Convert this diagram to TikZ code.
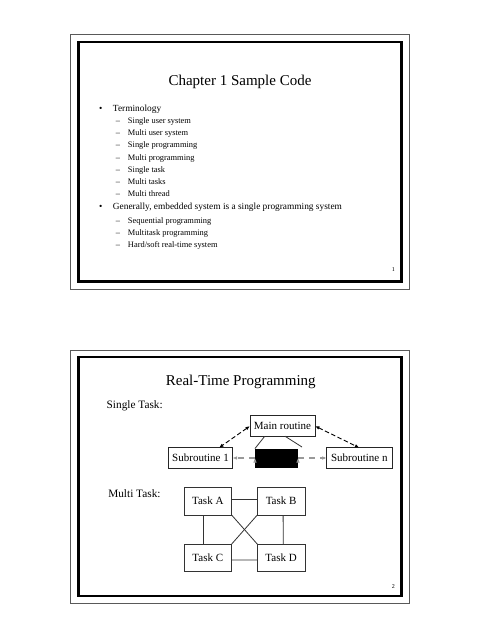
\documentclass[tikz,border=0pt]{standalone}
\usepackage{fontspec}
\setmainfont{Liberation Serif}
\usetikzlibrary{positioning}
\usetikzlibrary{calc}
\usetikzlibrary{arrows.meta}
\tikzset{
	every node/.style={inner sep=0pt,outer sep=0pt},
	slidetitle/.style={font=\fontsize{15}{18}\selectfont, anchor=base},
	itemtext/.style={font=\fontsize{9.35}{11}\selectfont, anchor=base west},
	subtext/.style={font=\fontsize{8.4}{10}\selectfont, anchor=base west},
	tasklabel/.style={font=\fontsize{11.3}{13}\selectfont, anchor=base west},
	pagenum/.style={font=\fontsize{6}{7}\selectfont},
	box/.style={draw=black!85, line width=0.8pt, font=\fontsize{11}{13}\selectfont, minimum height=20.5pt},
	taskbox/.style={draw=black!80, line width=0.8pt, font=\fontsize{11}{13}\selectfont, minimum width=47.7pt, minimum height=27.7pt},
	hiddenbox/.style={fill=black, minimum width=43pt, minimum height=19pt},
	calls/.style={{Latex[length=4.5pt,width=3.5pt]}-{Latex[length=4.5pt,width=3.5pt]}, dash pattern=on 4.5pt off 2.5pt, line width=0.9pt},
	returns/.style={-{Latex[length=4.5pt,width=3.5pt]}, draw=black!40, dash pattern=on 6pt off 5pt, line width=1.1pt},
	link/.style={draw=black!80, line width=0.8pt},
	outerframe/.style={draw=black!65, line width=0.8pt},
	innerframe/.style={draw=black, line width=2.4pt}
}
\newcommand\bulletmark{\makebox[13.9pt][l]{•}}
\newcommand\dashmark{\makebox[12.1pt][l]{–}}

\begin{document}
\begin{tikzpicture}[x=1pt,y=-1pt]
	\useasboundingbox[fill=white] (0,0) rectangle (480,640);
	
	% Slide 1
	\draw[outerframe] (70,34) rectangle (409,289);
	\draw[innerframe] (78.5,42) rectangle (401.5,281.5);
	\node (title1) [slidetitle] at (240,85) {Chapter 1 Sample Code};
	
	\node (term) [itemtext] at (99.1,111.5) {\bulletmark Terminology};
	\node (s1) [subtext] at (115.9,123.5) {\dashmark Single user system};
	\node (s2) [subtext] at (115.9,135.6) {\dashmark Multi user system};
	\node (s3) [subtext] at (115.9,147.8) {\dashmark Single programming};
	\node (s4) [subtext] at (115.9,160) {\dashmark Multi programming};
	\node (s5) [subtext] at (115.9,172.1) {\dashmark Single task};
	\node (s6) [subtext] at (115.9,184.2) {\dashmark Multi tasks};
	\node (s7) [subtext] at (115.9,196.3) {\dashmark Multi thread};
	\node (gen) [itemtext] at (99.1,209.8) {\bulletmark Generally, embedded system is a single programming system};
	\node (g1) [subtext] at (115.9,223.5) {\dashmark Sequential programming};
	\node (g2) [subtext] at (115.9,235.6) {\dashmark Multitask programming};
	\node (g3) [subtext] at (115.9,247.7) {\dashmark Hard/soft real-time system};
	
	\node (page1) [pagenum] at (393.3,269.3) {1};
	
	% Slide 2
	\draw[outerframe] (70,350) rectangle (409,603);
	\draw[innerframe] (78.5,357) rectangle (401.5,596);
	\node (title2) [slidetitle] at (240.8,385) {Real-Time Programming};
	
	\node (single) [tasklabel] at (106.7,408) {Single Task:};
	\node (multi) [tasklabel] at (108.3,497.5) {Multi Task:};
	
	% single task
	\node (main) [box, minimum width=65pt] at (282.5,426) {Main routine};
	\node (black) [hiddenbox] at (276.5,458) {};
	\node (sub1) [box, minimum width=64pt, left = 22.5pt of black] {Subroutine 1};
	\node (subn) [box, minimum width=65.3pt, right = 28.7pt of black] {Subroutine n};
	\coordinate (hidden) at (302,447);
	
	\path[calls] (main.west) edge (sub1.29);
	\path[calls] (main.east) edge (subn.north);
	\draw[link] (main.210) -- (black.north west);
	\draw[link] (main.284) -- (hidden);
	\path[returns] (black.west) edge (sub1.east);
	\path[returns] (black.east) edge (subn.west);
	
	% multi task
	\node (taska) [taskbox] at (207.8,501.2) {Task A};
	\node (taskb) [taskbox, right = 25.6pt of taska] {Task B};
	\node (taskc) [taskbox, below = 29pt of taska] {Task C};
	\node (taskd) [taskbox, right = 25.6pt of taskc] {Task D};
	
	\draw[link] (taska.east) ++(0,-2) -- (taskb.west |- 0,499.2);
	\draw[link] (taskc.east) ++(0,2) -- (taskd.west |- 0,560);
	\draw[link] (taska.south) ++(-4.5,0) -- (taskc.north -| 203.3,0);
	\draw[link] (taskb.south) ++(2,0) -- (taskd.north -| 283.3,0);
	\draw[link] (taska.south east) -- (taskd.north west);
	\draw[link] (taskb.south west) -- (taskc.north east);
	
	\node (page2) [pagenum] at (393.3,586.7) {2};
\end{tikzpicture}
\end{document}
